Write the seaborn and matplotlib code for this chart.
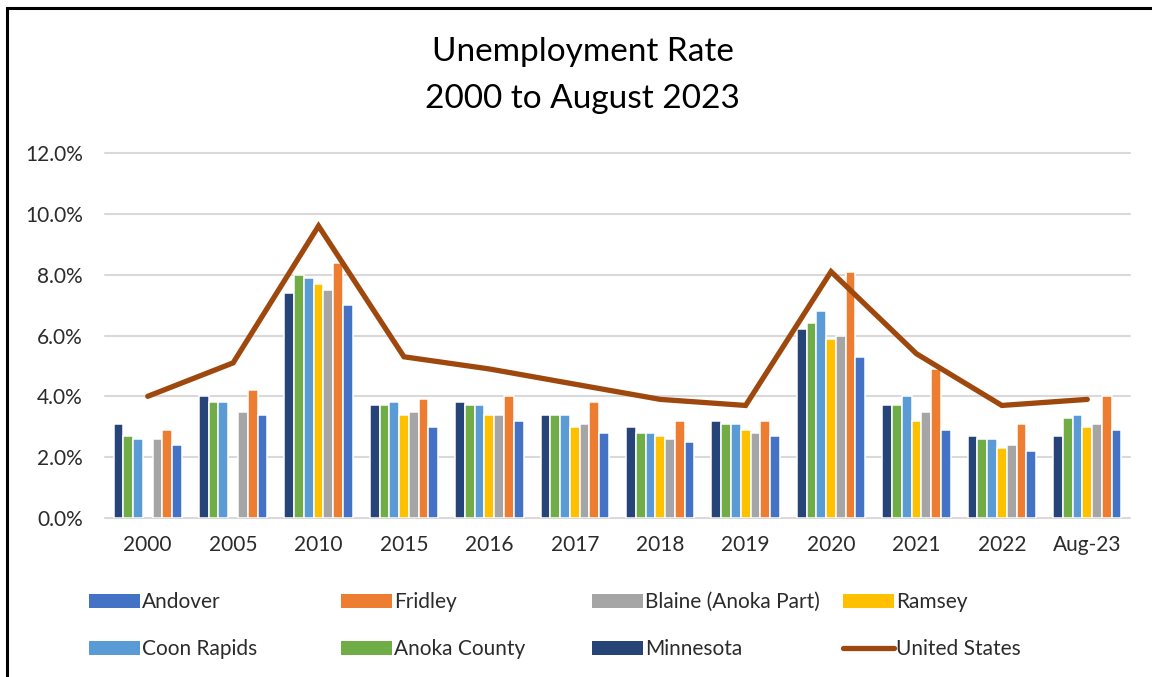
import numpy as np
import pandas as pd
import matplotlib
matplotlib.use("Agg")
import matplotlib.pyplot as plt
from matplotlib.patches import Patch, Rectangle
from matplotlib.lines import Line2D
import seaborn as sns

# Periods on the x axis
periods = ["2000", "2005", "2010", "2015", "2016", "2017", "2018",
           "2019", "2020", "2021", "2022", "Aug-23"]

# Unemployment rate (%) by area
minnesota    = [3.1, 4.0, 7.4, 3.7, 3.8, 3.4, 3.0, 3.2, 6.2, 3.7, 2.7, 2.7]
anoka_county = [2.7, 3.8, 8.0, 3.7, 3.7, 3.4, 2.8, 3.1, 6.4, 3.7, 2.6, 3.3]
coon_rapids  = [2.6, 3.8, 7.9, 3.8, 3.7, 3.4, 2.8, 3.1, 6.8, 4.0, 2.6, 3.4]
ramsey       = [np.nan, np.nan, 7.7, 3.4, 3.4, 3.0, 2.7, 2.9, 5.9, 3.2, 2.3, 3.0]
blaine       = [2.6, 3.5, 7.5, 3.5, 3.4, 3.1, 2.6, 2.8, 6.0, 3.5, 2.4, 3.1]
fridley      = [2.9, 4.2, 8.4, 3.9, 4.0, 3.8, 3.2, 3.2, 8.1, 4.9, 3.1, 4.0]
andover      = [2.4, 3.4, 7.0, 3.0, 3.2, 2.8, 2.5, 2.7, 5.3, 2.9, 2.2, 2.9]
united_states = [4.0, 5.1, 9.6, 5.3, 4.9, 4.4, 3.9, 3.7, 8.1, 5.4, 3.7, 3.9]

series = {
    "Minnesota": minnesota,
    "Anoka County": anoka_county,
    "Coon Rapids": coon_rapids,
    "Ramsey": ramsey,
    "Blaine (Anoka Part)": blaine,
    "Fridley": fridley,
    "Andover": andover,
}
colors = {
    "Andover": "#4472C4",
    "Fridley": "#ED7D31",
    "Blaine (Anoka Part)": "#A5A5A5",
    "Ramsey": "#FFC000",
    "Coon Rapids": "#5B9BD5",
    "Anoka County": "#70AD47",
    "Minnesota": "#264478",
    "United States": "#9E480E",
}

rows = []
for name, vals in series.items():
    for p, v in zip(periods, vals):
        rows.append({"period": p, "area": name, "rate": v})
df = pd.DataFrame(rows)

sns.set_theme(style="white")
plt.rcParams["font.family"] = ["Lato", "DejaVu Sans"]

fig = plt.figure(figsize=(11.52, 6.77), dpi=100)
ax = fig.add_axes([105 / 1152, 1 - 518 / 677, 1025 / 1152, 365 / 677])

hue_order = list(series.keys())
sns.barplot(data=df, x="period", y="rate", hue="area", order=periods,
            hue_order=hue_order, palette=colors, width=0.8, dodge=True,
            edgecolor="white", linewidth=1.1, saturation=1, errorbar=None,
            legend=False, ax=ax, zorder=3)

us_df = pd.DataFrame({"pos": np.arange(len(periods)), "rate": united_states})
sns.lineplot(data=us_df, x="pos", y="rate", color=colors["United States"],
             linewidth=3.8, ax=ax, zorder=4, solid_capstyle="round",
             solid_joinstyle="miter")

ax.set_xlim(-0.5, len(periods) - 0.5)
ax.set_ylim(0, 12)
ax.set_yticks(np.arange(0, 12.1, 2))
ax.set_yticklabels([f"{t:.1f}%" for t in np.arange(0, 12.1, 2)])
ax.set_xticks(np.arange(len(periods)))
ax.set_xticklabels(periods)
ax.set_xlabel("")
ax.set_ylabel("")
ax.tick_params(axis="both", length=0, labelsize=15, colors="#2b2b2b")
ax.tick_params(axis="x", pad=12)
ax.tick_params(axis="y", pad=16)
ax.grid(axis="y", color="#d9d9d9", linewidth=1.5, zorder=0)
for s in ax.spines.values():
    s.set_visible(False)
for gl in ax.get_ygridlines():
    gl.set_clip_on(False)

fig.text(0.506, 1 - 52 / 677, "Unemployment Rate", ha="center", va="center",
         fontsize=24, color="#000000")
fig.text(0.506, 1 - 99 / 677, "2000 to August 2023", ha="center", va="center",
         fontsize=24, color="#000000")

# Legend in four columns placed along the bottom
def handle(name):
    if name == "United States":
        return Line2D([], [], color=colors[name], linewidth=3.8,
                      solid_capstyle="round")
    return Patch(facecolor=colors[name], edgecolor="none")

columns = [
    (89, ["Andover", "Coon Rapids"]),
    (341, ["Fridley", "Anoka County"]),
    (592, ["Blaine (Anoka Part)", "Minnesota"]),
    (843, ["Ramsey", "United States"]),
]
for xpix, names in columns:
    leg = fig.legend([handle(n) for n in names], names,
                     loc="upper left",
                     bbox_to_anchor=(xpix / 1152, 1 - 592 / 677),
                     frameon=False, fontsize=15, handlelength=2.45,
                     handleheight=0.67, handletextpad=0.1,
                     labelspacing=1.3, borderpad=0, borderaxespad=0)
    for t in leg.get_texts():
        t.set_color("#2b2b2b")

# Outer frame
fig.patches.append(Rectangle((7 / 1152, -0.1), 1.2, 1 - 8 / 677 + 0.1,
                             transform=fig.transFigure, fill=False,
                             edgecolor="black", linewidth=2.2))

fig.savefig("out.png", dpi=100, facecolor="white")
